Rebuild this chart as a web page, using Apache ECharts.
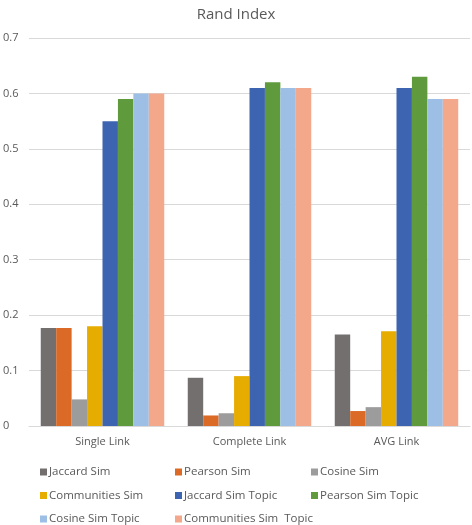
<!DOCTYPE html>
<html>
<head>
<meta charset="utf-8">
<script src="https://cdn.jsdelivr.net/npm/echarts@6/dist/echarts.min.js"></script>
<style>html,body{margin:0;padding:0;background:#fff;}#chart{width:472px;height:525px;}</style>
</head>
<body>
<div id="chart"></div>
<script>
var categories = ['Single Link', 'Complete Link', 'AVG Link'];
var seriesNames = ['Jaccard Sim', 'Pearson Sim', 'Cosine Sim', 'Communities Sim', 'Jaccard Sim Topic', 'Pearson Sim Topic', 'Cosine Sim Topic', 'Communities Sim  Topic'];
var jaccardSim = [0.177, 0.087, 0.165];
var pearsonSim = [0.177, 0.019, 0.027];
var cosineSim = [0.048, 0.023, 0.034];
var communitiesSim = [0.180, 0.090, 0.171];
var jaccardSimTopic = [0.55, 0.61, 0.61];
var pearsonSimTopic = [0.59, 0.62, 0.63];
var cosineSimTopic = [0.60, 0.61, 0.59];
var communitiesSimTopic = [0.60, 0.61, 0.59];
var yTicks = [0, 0.1, 0.2, 0.3, 0.4, 0.5, 0.6, 0.7];

var values = [jaccardSim, pearsonSim, cosineSim, communitiesSim, jaccardSimTopic, pearsonSimTopic, cosineSimTopic, communitiesSimTopic];
var colors = ['#736f6f', '#dc6a27', '#9c9c9c', '#e7ac00', '#3d64b1', '#5f9a3c', '#9dbfe5', '#f3a88c'];
var font = 'Open Sans';
var txt = '#595959';

var series = seriesNames.map(function (n, i) {
  return {
    name: n, type: 'bar', data: values[i],
    barGap: '0%', barCategoryGap: '16%',
    itemStyle: { color: colors[i] }
  };
});

function leg(names, left) {
  return {
    data: names.map(function (n) { return { name: n, icon: 'rect' }; }),
    orient: 'vertical', left: left, top: 465, height: 80,
    itemWidth: 7, itemHeight: 7, itemGap: 9.5, padding: 0,
    textStyle: { fontFamily: font, fontSize: 11.5, lineHeight: 14, color: txt, padding: [0, 0, 0, -3] },
    selectedMode: false
  };
}

var chart = echarts.init(document.getElementById('chart'), null, { renderer: 'canvas' });
chart.setOption({
  animation: false,
  color: colors,
  title: {
    text: 'Rand Index', left: 'center', top: 2,
    textStyle: { fontFamily: font, fontSize: 15, fontWeight: 'normal', color: txt }
  },
  legend: [
    leg([seriesNames[0], seriesNames[3], seriesNames[6]], 40),
    leg([seriesNames[1], seriesNames[4], seriesNames[7]], 175),
    leg([seriesNames[2], seriesNames[5]], 311)
  ],
  grid: { left: 28, right: 2, top: 38, bottom: 99, containLabel: false },
  xAxis: {
    type: 'category', data: categories,
    axisLine: { lineStyle: { color: '#d9d9d9' } },
    axisTick: { show: false },
    axisLabel: { fontFamily: font, fontSize: 11, color: txt, margin: 10 }
  },
  yAxis: {
    type: 'value', min: 0, max: 0.7, interval: 0.1,
    axisLine: { show: false }, axisTick: { show: false },
    splitLine: { lineStyle: { color: '#d9d9d9' } },
    axisLabel: {
      fontFamily: font, fontSize: 11, color: txt, align: 'left', margin: 26,
      formatter: function (v) {
        var t = yTicks.find(function (k) { return Math.abs(k - v) < 1e-9; });
        return t === undefined ? '' : String(t);
      }
    }
  },
  series: series
});
</script>
</body>
</html>
